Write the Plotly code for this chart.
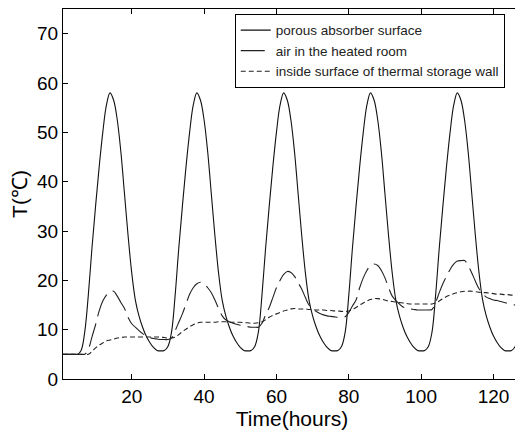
import plotly.graph_objects as go

hours = list(range(1, 129))

# porous absorber surface (solid)
absorber = [
    5, 5, 5, 5, 5, 5.8, 9.5, 17, 26.5, 35, 43, 50, 55.5,
    58, 56.5, 52.5, 46, 37.5, 29, 21.5, 16, 12.8, 10.5, 8.7, 7.4, 6.4, 5.8, 5.7, 5.8, 6.6,
    9.5, 17, 26.5, 35, 43, 50, 55.5,
    58, 56.5, 52.5, 46, 37.5, 29, 21.5, 16, 12.8, 10.5, 8.7, 7.4, 6.4, 5.8, 5.7, 5.8, 6.6,
    9.5, 17, 26.5, 35, 43, 50, 55.5,
    58, 56.5, 52.5, 46, 37.5, 29, 21.5, 16, 12.8, 10.5, 8.7, 7.4, 6.4, 5.8, 5.7, 5.8, 6.6,
    9.5, 17, 26.5, 35, 43, 50, 55.5,
    58, 56.5, 52.5, 46, 37.5, 29, 21.5, 16, 12.8, 10.5, 8.7, 7.4, 6.4, 5.8, 5.7, 5.8, 6.6,
    9.5, 17, 26.5, 35, 43, 50, 55.5,
    58, 56.5, 52.5, 46, 37.5, 29, 21.5, 16, 12.8, 10.5, 8.7, 7.4, 6.4, 5.8, 5.7, 5.8, 6.6,
    9.5, 17,
]

# air in the heated room (long dashes)
air = [
    5, 5, 5, 5, 5, 5, 5, 6, 8.5, 11, 13.8, 15.8, 17, 17.7, 17.8, 16.8, 15.5, 14.3, 12.5, 11.2,
    10.5, 9.8, 9.2, 8.8, 8.4, 8.2, 8.1, 8.0, 8.0, 8.0, 8.3, 9.8, 11.5, 13.2, 15.2, 17.2, 18.5,
    19.3, 19.6, 19.3, 18.5, 17.5, 16, 14.3, 12.8, 12, 11.6, 11.3, 11.1, 10.9, 10.7, 10.6, 10.5,
    10.5, 10.5, 11.3, 13, 14.5, 16.5, 18.5, 20, 21.2, 21.8, 21.6, 20.8, 19.5, 18.2, 16.5, 15,
    14.2, 13.7, 13.3, 13, 12.8, 12.7, 12.6, 12.5, 12.5, 12.6, 13.5, 14.8, 16, 18.5, 20.5, 22,
    23, 23.3, 23, 22, 20.5, 18.5, 16.8, 15.9, 15.2, 14.6, 14.4, 14.2, 14.1, 14, 14, 14, 14,
    14.1, 15.5, 17.5, 19.3, 20.8, 22.2, 23.3, 23.9, 24, 24, 23, 21.5, 19.8, 18.3, 17.3, 16.6,
    16.3, 16, 15.9, 15.7, 15.5, 15.3, 15.1, 15, 14.9, 14.8,
]

# inside surface of thermal storage wall (short dashes)
wall = [
    5, 5, 5, 5, 5, 5, 5, 5, 5.6, 6.3, 6.9, 7.3, 7.7, 7.9, 8.1, 8.3, 8.4, 8.5, 8.5, 8.5,
    8.5, 8.5, 8.5, 8.5, 8.5, 8.5, 8.5, 8.5, 8.4, 8.3, 8.3, 8.5, 9, 9.6, 10.1, 10.6, 11, 11.3,
    11.5, 11.5, 11.5, 11.5, 11.5, 11.6, 11.6, 11.6, 11.5, 11.5, 11.5, 11.5, 11.4, 11.4, 11.3,
    11.3, 11.4, 11.6, 12, 12.5, 12.9, 13.2, 13.5, 13.8, 14, 14.2, 14.3, 14.2, 14.2, 14.2, 14.1,
    14.1, 14, 14, 14, 13.9, 13.9, 13.8, 13.8, 13.7, 13.7, 13.8, 14.1, 14.5, 15, 15.4, 15.8,
    16.1, 16.3, 16.3, 16.2, 16, 15.8, 15.7, 15.6, 15.5, 15.4, 15.3, 15.2, 15.2, 15.2, 15.2,
    15.2, 15.2, 15.2, 15.4, 15.8, 16.3, 16.7, 17, 17.3, 17.5, 17.7, 17.8, 17.8, 17.8, 17.7,
    17.6, 17.5, 17.5, 17.4, 17.3, 17.2, 17.2, 17.1, 17.1, 17, 17, 16.9, 16.9,
]

x_ticks = [20, 40, 60, 80, 100, 120]
y_ticks = [0, 10, 20, 30, 40, 50, 60, 70]

series_names = [
    "porous absorber surface",
    "air in the heated room",
    "inside surface of thermal storage wall",
]

fig = go.Figure()
fig.add_trace(go.Scatter(x=hours, y=absorber, mode="lines", name=series_names[0],
                         line=dict(color="#111", width=1.1), line_shape="spline"))
fig.add_trace(go.Scatter(x=hours, y=air, mode="lines", name=series_names[1],
                         line=dict(color="#222", width=1.1, dash="24px,7px"), line_shape="spline"))
fig.add_trace(go.Scatter(x=hours, y=wall, mode="lines", name=series_names[2],
                         line=dict(color="#222", width=1.1, dash="5px,3px"), line_shape="spline"))

font_family = "Liberation Sans, Arial, sans-serif"
axis_common = dict(
    showline=True, linecolor="black", linewidth=1, mirror="ticks",
    ticks="inside", ticklen=5, tickcolor="black", showgrid=False, zeroline=False,
    tickfont=dict(family=font_family, size=19, color="black"),
)
fig.update_xaxes(range=[1, 127.6], tickvals=x_ticks,
                 title=dict(text="Time(hours)", font=dict(family=font_family, size=21, color="black"), standoff=0),
                 **axis_common)
fig.update_yaxes(range=[0, 75], tickvals=y_ticks,
                 title=dict(text="T(℃)", font=dict(family=font_family, size=21, color="black"), standoff=8),
                 **axis_common)

# the page body adds an 8px offset, so the figure is sized to the visible area
fig.update_layout(
    width=515, height=423,
    margin=dict(l=55, r=2, t=1, b=52, autoexpand=False),
    paper_bgcolor="white", plot_bgcolor="white",
    showlegend=True,
    legend=dict(x=0.375, y=0.987, xanchor="left", yanchor="top",
                bordercolor="black", borderwidth=1, bgcolor="white",
                font=dict(family=font_family, size=13.5, color="#222"),
                itemwidth=30, tracegroupgap=0),
)

fig.write_html("out.html")
